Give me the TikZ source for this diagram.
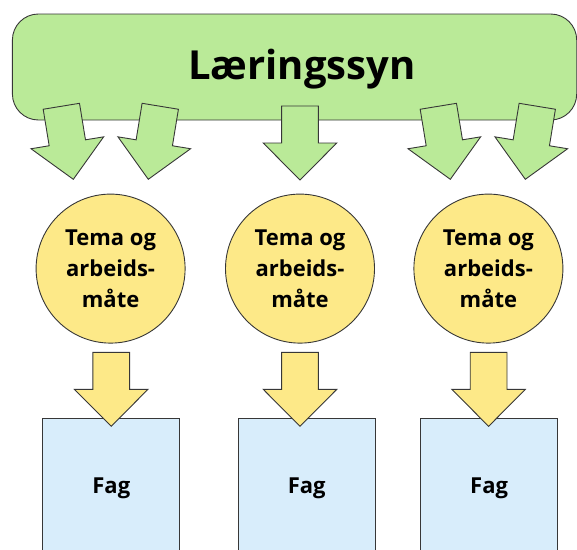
\documentclass[tikz,border=0pt]{standalone}
\usepackage{fontspec}
\setmainfont{Open Sans}
\usetikzlibrary{calc}
\definecolor{lsgreen}{RGB}{186,234,152}
\definecolor{tyellow}{RGB}{253,233,136}
\definecolor{fblue}{RGB}{216,237,251}
\definecolor{edge}{RGB}{55,55,55}
\tikzset{
  blockarr/.pic={
    \path[pic actions] (-18.4,-74) -- (18.4,-74) -- (18.4,-37) -- (36.8,-37)
      -- (0,0) -- (-36.8,-37) -- (-18.4,-37) -- cycle;
  },
  garrow/.style={fill=lsgreen, draw=edge, line width=0.9pt, line join=miter},
  yarrow/.style={fill=tyellow, draw=edge, line width=0.9pt, line join=miter},
  lsbox/.style={draw=edge, fill=lsgreen, line width=0.9pt, rounded corners=26pt,
    minimum width=564.3pt, minimum height=106pt, inner sep=0pt},
  lstext/.style={font=\fontsize{40}{48}\selectfont\bfseries, inner sep=0pt, anchor=base},
  temacircle/.style={circle, draw=edge, fill=tyellow, line width=0.9pt,
    minimum size=149pt, inner sep=0pt, align=center,
    font=\fontsize{22}{30.7}\selectfont\bfseries},
  fagbox/.style={draw=edge, fill=fblue, line width=0.9pt, minimum width=137pt,
    minimum height=150pt, anchor=north, inner sep=0pt},
  fagtext/.style={font=\fontsize{22}{26}\selectfont\bfseries, inner sep=0pt, anchor=base},
}
\begin{document}
\begin{tikzpicture}[x=1pt, y=-1pt]
\useasboundingbox (0,0) rectangle (577,549);
% top box
\node[lsbox] (ls) at (294.55,67) {};
\node[lstext] (lst) at (301.8,79) {Læringssyn};
% green arrows
\coordinate (g1) at (73.3,179.3);
\coordinate (g2) at (148.3,179.3);
\coordinate (g3) at (300,180);
\coordinate (g4) at (450.3,179.3);
\coordinate (g5) at (525.3,179.3);
\pic[garrow, rotate=9.3] at (g1) {blockarr};
\pic[garrow, rotate=-9.3] at (g2) {blockarr};
\pic[garrow] at (g3) {blockarr};
\pic[garrow, rotate=9.3] at (g4) {blockarr};
\pic[garrow, rotate=-9.3] at (g5) {blockarr};
% circles
\node[temacircle] (c1) at (110.6,268.6) {Tema og\\arbeids-\\måte};
\node[temacircle] (c2) at (300,268.6) {Tema og\\arbeids-\\måte};
\node[temacircle] (c3) at (488.4,268.6) {Tema og\\arbeids-\\måte};
% fag boxes
\node[fagbox] (f1) at (111.3,418) {};
\node[fagbox] (f2) at (306.7,418) {};
\node[fagbox] (f3) at (489.1,418) {};
\node[fagtext] (f1t) at ($(f1.north)+(0,75)$) {Fag};
\node[fagtext] (f2t) at ($(f2.north)+(0,75)$) {Fag};
\node[fagtext] (f3t) at ($(f3.north)+(0,75)$) {Fag};
% yellow arrows (drawn over the boxes' top edges)
\coordinate (y1) at (111.2,426.3);
\coordinate (y2) at (300,426.3);
\coordinate (y3) at (488.6,426.3);
\pic[yarrow] at (y1) {blockarr};
\pic[yarrow] at (y2) {blockarr};
\pic[yarrow] at (y3) {blockarr};
\end{tikzpicture}
\end{document}
